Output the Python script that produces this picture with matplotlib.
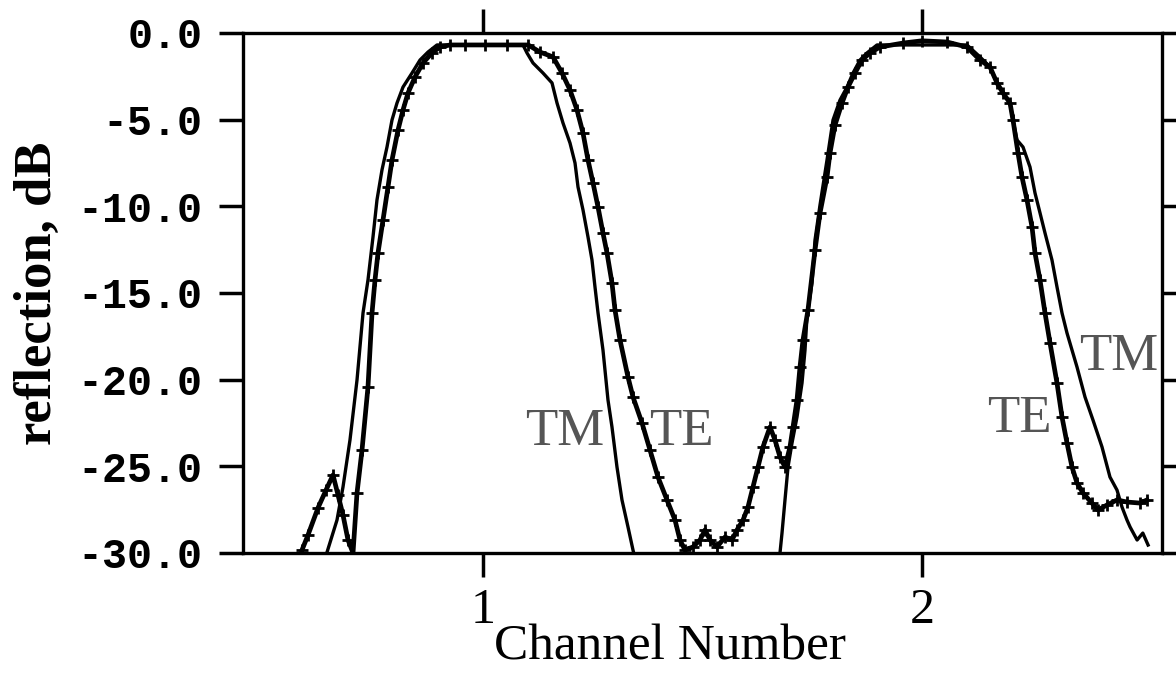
import matplotlib
matplotlib.use("Agg")
import matplotlib.pyplot as plt
from matplotlib.ticker import FormatStrFormatter

# TM polarisation (thin line)
tm_x = [0.638, 0.6674, 0.6811, 0.6970, 0.7130, 0.7267, 0.7380, 0.7494, 0.7585, 0.7699,
        0.7813, 0.7927, 0.8041, 0.8178, 0.8383, 0.8565, 0.8747, 0.8952, 0.95, 1.0, 1.05,
        1.0911, 1.1002, 1.1139, 1.1367, 1.1572, 1.1686, 1.1822, 1.1982, 1.2096, 1.2164,
        1.2278, 1.2392, 1.2483, 1.2551, 1.2620, 1.2733, 1.2847, 1.2938, 1.3052, 1.3166,
        1.3303, 1.3417, 1.358, 1.665, 1.6765, 1.6811, 1.6879, 1.6948, 1.7039, 1.7153,
        1.7267, 1.7335, 1.7380, 1.7494, 1.7563, 1.7677, 1.7836, 1.7973, 1.8132, 1.8292,
        1.8428, 1.8588, 1.8747, 1.8975, 1.95, 2.0, 2.05, 2.1025, 2.1321, 2.1549, 2.1708,
        2.1845, 2.2005, 2.2073, 2.2164, 2.2301, 2.2460, 2.2574, 2.2688, 2.2802, 2.2961,
        2.3075, 2.3189, 2.3303, 2.3531, 2.3713, 2.3895, 2.4100, 2.4282, 2.4442, 2.4556,
        2.4670, 2.474, 2.490, 2.503, 2.515]
tm_db = [-30.5, -28.10, -26.19, -23.48, -20.02, -16.15, -14.25, -11.77, -9.63, -7.90,
         -6.58, -5.02, -4.04, -3.12, -2.31, -1.56, -1.10, -0.69, -0.69, -0.69, -0.69,
         -0.69, -1.15, -1.73, -2.31, -2.88, -4.04, -5.19, -6.35, -7.50, -8.88,
         -10.21, -11.77, -13.10, -14.65, -16.15, -18.29, -21.17, -22.73, -25.04, -26.94,
         -28.50, -29.83, -31.6, -32.0, -30.0, -28.85, -26.94, -25.04, -23.65, -22.15,
         -20.19, -18.29, -16.38, -14.42, -11.94, -9.92, -7.33, -5.02, -3.87, -3.12,
         -2.31, -1.56, -1.15, -0.69, -0.69, -0.69, -0.69, -0.69, -1.38, -1.96, -2.88,
         -3.46, -4.04, -5.02, -6.17, -6.58, -7.73, -9.23, -10.38, -11.54, -13.10,
         -14.65, -16.15, -17.31, -19.27, -21.00, -22.33, -23.88, -25.62, -26.37, -27.35,
         -28.10, -28.50, -29.25, -28.85, -29.54]

# TE polarisation (heavy line with markers)
te_x = [0.5877, 0.6014, 0.6241, 0.6424, 0.6583, 0.6697, 0.6811, 0.6925, 0.7039, 0.7130,
        0.7244, 0.7380, 0.7472, 0.7540, 0.7608, 0.7722, 0.7836, 0.7927, 0.8064, 0.8178,
        0.8292, 0.8451, 0.8633, 0.8838, 0.9021, 0.925, 0.959, 1.005, 1.055, 1.103,
        1.1298, 1.1595, 1.1800, 1.1982, 1.2141, 1.2278, 1.2392, 1.2506, 1.2620, 1.2733,
        1.2825, 1.2938, 1.3007, 1.3121, 1.3303, 1.3417, 1.3622, 1.3804, 1.3986, 1.4191,
        1.4374, 1.4487, 1.4601, 1.4784, 1.4943, 1.5057, 1.5171, 1.5330, 1.5513, 1.5672,
        1.5786, 1.5923, 1.6036, 1.6150, 1.6264, 1.6378, 1.6538, 1.6651, 1.6765, 1.6879,
        1.6993, 1.7062, 1.7153, 1.7221, 1.7289, 1.7403, 1.7563, 1.7677, 1.7836, 1.7904,
        1.8018, 1.8178, 1.8314, 1.8474, 1.8633, 1.8815, 1.9043, 1.9567, 2.0, 2.0569,
        2.1025, 2.1321, 2.1549, 2.1708, 2.1845, 2.2005, 2.2073, 2.2187, 2.2278, 2.2392,
        2.2506, 2.2574, 2.2688, 2.2802, 2.2916, 2.3075, 2.3189, 2.3303, 2.3417, 2.3531,
        2.3667, 2.3872, 2.4009, 2.4214, 2.4442, 2.4670, 2.4966, 2.5125]
te_db = [-29.83, -28.96, -27.40, -26.37, -25.50, -26.65, -27.81, -29.25, -30.0, -26.54,
         -24.06, -20.42, -16.15, -14.25, -12.69, -10.79, -8.88, -7.33, -5.60, -4.44,
         -3.46, -2.54, -1.73, -1.15, -0.81, -0.69, -0.69, -0.69, -0.69, -0.69,
         -1.10, -1.38, -2.31, -3.29, -4.44, -5.77, -7.33, -8.65, -10.04, -11.54,
         -12.69, -14.42, -15.98, -17.71, -19.85, -21.00, -22.50, -24.06, -25.62, -26.94,
         -28.10, -29.25, -29.83, -29.65, -29.25, -28.67, -29.25, -29.65, -29.08, -29.25,
         -28.67, -28.10, -27.35, -26.19, -25.04, -23.88, -22.73, -23.48, -24.46, -25.04,
         -23.88, -22.73, -21.17, -19.27, -17.71, -15.98, -12.52, -10.38, -8.31, -6.92,
         -5.31, -4.04, -3.12, -2.31, -1.56, -1.15, -0.81, -0.58, -0.45, -0.52,
         -0.81, -1.56, -1.96, -2.88, -3.46, -4.04, -5.02, -6.92, -8.31, -9.63,
         -11.19, -12.69, -14.25, -16.15, -17.88, -20.19, -22.15, -23.65, -25.04, -25.96,
         -26.54, -27.12, -27.52, -27.23, -26.94, -27.06, -27.12, -26.94]

x_ticks = [1, 2]
y_ticks = [0, -5, -10, -15, -20, -25, -30]

plt.rcParams["axes.unicode_minus"] = False

fig = plt.figure(figsize=(11.76, 6.74), dpi=100)
ax = fig.add_axes([243 / 1176, 1 - 553 / 674, 919 / 1176, 520 / 674])

ax.plot(tm_x, tm_db, color="black", lw=2.4)
ax.plot(te_x, te_db, color="black", lw=3.4, marker="+", ms=8, mew=2.0)

ax.set_xlim(0.4533, 2.5467)
ax.set_ylim(-30, 0)

ax.set_xticks(x_ticks)
ax.set_yticks(y_ticks)
ax.yaxis.set_major_formatter(FormatStrFormatter("%.1f"))
ax.tick_params(direction="out", length=17, width=2.5, top=True, right=True,
               labeltop=False, labelright=False)
ax.tick_params(axis="y", pad=12)
ax.tick_params(axis="x", pad=8)
for lab in ax.get_yticklabels():
    lab.set_fontfamily("Liberation Mono")
    lab.set_fontweight("bold")
    lab.set_fontsize(30)
for lab in ax.get_xticklabels():
    lab.set_fontfamily("Liberation Serif")
    lab.set_fontsize(36)
for sp in ax.spines.values():
    sp.set_linewidth(2.4)

ax.set_xlabel("Channel Number", fontfamily="Liberation Serif", fontsize=37)
ax.xaxis.set_label_coords(0.465, -0.204, transform=ax.transAxes)
ax.xaxis.label.set_va("baseline")
ax.set_ylabel("reflection, dB", fontfamily="Liberation Serif", fontweight="bold", fontsize=38)
ax.yaxis.set_label_coords(-0.197, 0.5, transform=ax.transAxes)

# polarisation labels
lab_kw = dict(fontfamily="Liberation Serif", fontsize=38, color="#555555", ha="center", va="baseline")
ax.text(1.187, -23.77, "TM", **lab_kw)
ax.text(1.451, -23.77, "TE", **lab_kw)
ax.text(2.221, -23.02, "TE", **lab_kw)
ax.text(2.449, -19.44, "TM", **lab_kw)

fig.savefig("out.png", dpi=100)
